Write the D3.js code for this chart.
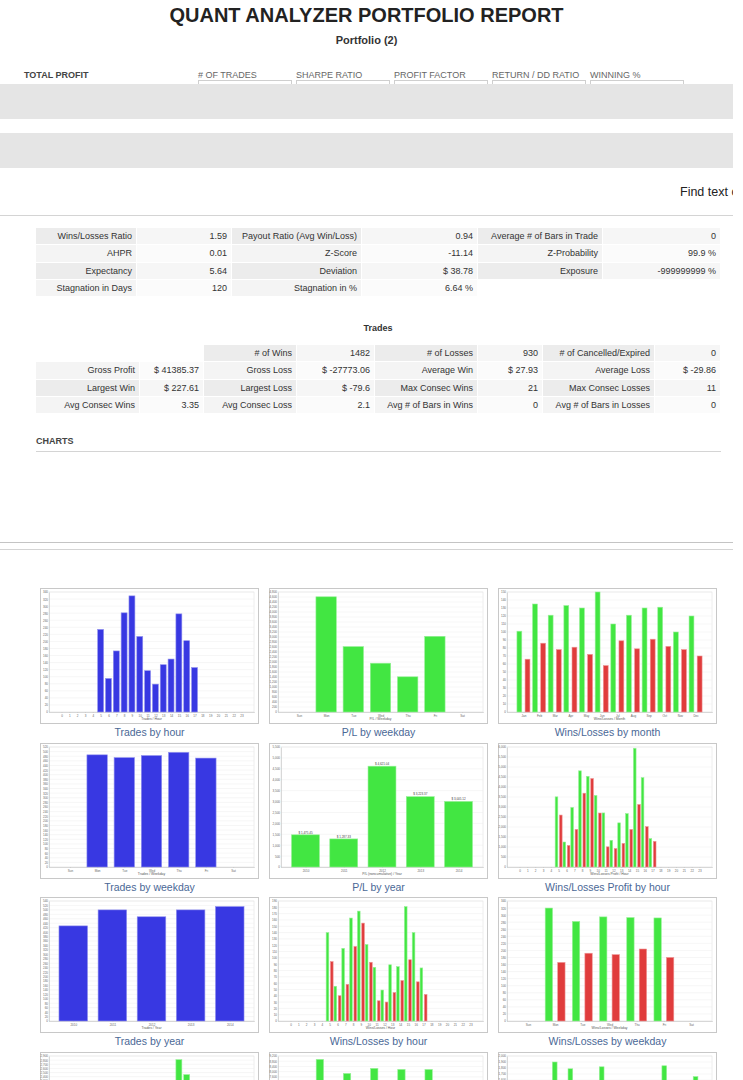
<!DOCTYPE html>
<html>
<head>
<meta charset="utf-8">
<title>Quant Analyzer Portfolio Report</title>
<script src="https://cdn.jsdelivr.net/npm/d3@7"></script>
<style>
    body { margin: 0; background: #fff; font-family: "Liberation Sans", Arial, sans-serif; color: #333; }
    #page { position: relative; width: 733px; height: 1080px; overflow: hidden; background: #fff; }
    .abs { position: absolute; white-space: nowrap; }
    .cell { position: absolute; font-size: 9px; text-align: right; box-sizing: border-box; padding-right: 4px; line-height: 17px; color: #333; }
    .caption { position: absolute; width: 219px; text-align: center; font-size: 10.5px; color: #4a6896; line-height: 14px; }
    svg text { font-family: "Liberation Sans", Arial, sans-serif; }
</style>
</head>
<body>
<div id="page"></div>

<script>
    // ---- data ----
    var headerLabels = ["# OF TRADES", "SHARPE RATIO", "PROFIT FACTOR", "RETURN / DD RATIO", "WINNING %"];

    var statsRows = [
        ["Wins/Losses Ratio", "1.59", "Payout Ratio (Avg Win/Loss)", "0.94", "Average # of Bars in Trade", "0"],
        ["AHPR", "0.01", "Z-Score", "-11.14", "Z-Probability", "99.9 %"],
        ["Expectancy", "5.64", "Deviation", "$ 38.78", "Exposure", "-999999999 %"],
        ["Stagnation in Days", "120", "Stagnation in %", "6.64 %", "", ""]
    ];

    var tradesRows = [
        ["", "", "# of Wins", "1482", "# of Losses", "930", "# of Cancelled/Expired", "0"],
        ["Gross Profit", "$ 41385.37", "Gross Loss", "$ -27773.06", "Average Win", "$ 27.93", "Average Loss", "$ -29.86"],
        ["Largest Win", "$ 227.61", "Largest Loss", "$ -79.6", "Max Consec Wins", "21", "Max Consec Losses", "11"],
        ["Avg Consec Wins", "3.35", "Avg Consec Loss", "2.1", "Avg # of Bars in Wins", "0", "Avg # of Bars in Losses", "0"]
    ];

    var hourLabels = ["0", "1", "2", "3", "4", "5", "6", "7", "8", "9", "10", "11", "12", "13", "14", "15", "16", "17", "18", "19", "20", "21", "22", "23"];
    var dayLabels = ["Sun", "Mon", "Tue", "Wed", "Thu", "Fri", "Sat"];
    var monthLabels = ["Jan", "Feb", "Mar", "Apr", "May", "Jun", "Jul", "Aug", "Sep", "Oct", "Nov", "Dec"];
    var yearLabels = ["2010", "2011", "2012", "2013", "2014"];

    var tradesByHour = [0, 0, 0, 0, 0, 234, 95, 173, 281, 329, 214, 117, 79, 134, 150, 278, 202, 126, 0, 0, 0, 0, 0, 0];
    var plByWeekday = [0, 4608, 2616, 1952, 1408, 3028, 0];
    var winsByMonth = [101, 135, 121, 133, 130, 150, 110, 121, 130, 131, 100, 120];
    var lossesByMonth = [66, 86, 78, 81, 72, 58, 89, 79, 91, 82, 78, 70];
    var tradesByWeekday = [0, 486, 474, 483, 497, 472, 0];
    var plByYear = [1475.45, 1287.33, 4621.04, 3223.37, 3005.12];
    var winProfitByHour = [0, 0, 0, 0, 0, 3507, 1249, 2977, 4808, 4534, 3576, 2703, 1335, 2207, 2669, 5937, 4466, 1420, 0, 0, 0, 0, 0, 0];
    var lossProfitByHour = [0, 0, 0, 0, 0, 2597, 1076, 1879, 3690, 4425, 2699, 1008, 922, 1179, 1879, 3126, 2016, 1281, 0, 0, 0, 0, 0, 0];
    var tradesByYear = [428, 500, 469, 500, 515];
    var winsByHour = [0, 0, 0, 0, 0, 140, 55, 115, 163, 174, 121, 85, 49, 89, 86, 181, 140, 84, 0, 0, 0, 0, 0, 0];
    var lossesByHour = [0, 0, 0, 0, 0, 94, 40, 58, 118, 155, 93, 32, 30, 45, 64, 97, 62, 42, 0, 0, 0, 0, 0, 0];
    var winsByWeekday = [0, 320, 282, 295, 293, 292, 0];
    var lossesByWeekday = [0, 166, 192, 188, 204, 180, 0];
    var plByHour = [0, 0, 0, 0, 0, 910, 173, 1098, 1118, 109, 877, 1695, 413, 1028, 790, 2811, 2450, 139, 0, 0, 0, 0, 0, 0];
    var winProfitByWeekday = [0, 8940, 7860, 8250, 8170, 8165, 0];
    var lossProfitByWeekday = [0, 4957, 5733, 5614, 6091, 5375, 0];
    var plByMonth = [620, 890, 1900, 1787, 1050, 1820, 240, 720, 560, 1837, 532, 1656];

    var BLUE = "#3838e2", GREEN = "#42e642", RED = "#e03c3c";

    var page = d3.select("#page");

    // ---- header ----
    page.append("div").attr("class", "abs")
        .style("left", "0px").style("top", "4px").style("width", "733px")
        .style("text-align", "center").style("font-size", "20px").style("font-weight", "bold")
        .style("color", "#222").style("line-height", "23px")
        .text("QUANT ANALYZER PORTFOLIO REPORT");

    page.append("div").attr("class", "abs")
        .style("left", "0px").style("top", "33px").style("width", "733px")
        .style("text-align", "center").style("font-size", "11px").style("font-weight", "bold")
        .style("color", "#333").style("line-height", "14px")
        .text("Portfolio (2)");

    page.append("div").attr("class", "abs")
        .style("left", "24px").style("top", "69px").style("font-size", "9px").style("font-weight", "bold")
        .style("color", "#444").style("line-height", "12px")
        .text("TOTAL PROFIT");

    // header boxes
    page.selectAll("div.hbox").data(headerLabels).enter().append("div")
        .attr("class", "abs hbox")
        .style("left", function (d, i) { return (198 + i * 98) + "px"; })
        .style("top", "80px").style("width", "92px").style("height", "30px")
        .style("border", "1px solid #cfcfcf");

    page.selectAll("div.hlab").data(headerLabels).enter().append("div")
        .attr("class", "abs hlab")
        .style("left", function (d, i) { return (198 + i * 98) + "px"; })
        .style("top", "69px").style("font-size", "9px").style("color", "#666").style("line-height", "12px")
        .text(function (d) { return d; });

    // grey bands
    [[84, 35], [133, 35]].forEach(function (b) {
        page.append("div").attr("class", "abs")
            .style("left", "0px").style("top", b[0] + "px").style("width", "733px").style("height", b[1] + "px")
            .style("background", "#e5e5e5");
    });

    page.append("div").attr("class", "abs")
        .style("left", "680px").style("top", "185px").style("font-size", "12.5px").style("color", "#222")
        .style("line-height", "15px")
        .text("Find text on this page");

    function hline(y, x0, x1, color) {
        page.append("div").attr("class", "abs")
            .style("left", x0 + "px").style("top", y + "px").style("width", (x1 - x0) + "px")
            .style("height", "1px").style("background", color);
    }
    hline(215, 0, 733, "#d4d4d4");

    // ---- tables ----
    function table(rows, edges, top, rowH, bgs) {
        rows.forEach(function (row, r) {
            row.forEach(function (txt, c) {
                var isLabel = c % 2 === 0;
                var bg = (txt === "") ? "#fff" : (r % 2 === 0 ? bgs[0] : bgs[2]);
                if (!isLabel && txt !== "") bg = (r % 2 === 0 ? bgs[1] : bgs[3]);
                page.append("div").attr("class", "cell")
                    .style("left", edges[c] + "px")
                    .style("top", (top + r * rowH) + "px")
                    .style("width", (edges[c + 1] - edges[c] - 1) + "px")
                    .style("height", (rowH - 1) + "px")
                    .style("line-height", (rowH - 1) + "px")
                    .style("background", bg)
                    .text(txt);
            });
        });
    }
    table(statsRows, [36, 137, 232, 362, 478, 603, 721], 228, 17.3, ["#ececec", "#f6f6f6", "#f4f4f4", "#fbfbfb"]);

    page.append("div").attr("class", "abs")
        .style("left", "0px").style("top", "322px").style("width", "756px").style("text-align", "center")
        .style("font-size", "9px").style("font-weight", "bold").style("line-height", "12px")
        .text("Trades");

    table(tradesRows, [36, 140, 204, 297, 375, 478, 543, 655, 721], 345, 17.3, ["#ececec", "#f6f6f6", "#f4f4f4", "#fbfbfb"]);

    page.append("div").attr("class", "abs")
        .style("left", "36px").style("top", "435px").style("font-size", "9px").style("font-weight", "bold")
        .style("color", "#444").style("line-height", "12px")
        .text("CHARTS");
    hline(451, 36, 721, "#d4d4d4");
    hline(542, 0, 733, "#c4c4c4");
    hline(549, 0, 733, "#d4d4d4");

    // ---- charts ----
    var boxX = [40, 269, 498];
    var boxY = [588, 743, 897, 1052];

    function lighter(c) { return d3.interpolateRgb(c, "#ffffff")(0.45); }

    function drawChart(col, row, spec) {
        var W = 218, H = 135;
        var svg = page.append("svg")
            .style("position", "absolute")
            .style("left", boxX[col] + "px").style("top", boxY[row] + "px")
            .attr("width", W + 1).attr("height", H + 1);

        svg.append("rect").attr("x", 0.5).attr("y", 0.5).attr("width", W).attr("height", H)
            .attr("fill", "#fff").attr("stroke", "#c8c8c8");

        var left = spec.left || 9, right = 214, top = 4, bottom = 124;

        var y = d3.scaleLinear().domain([0, spec.yMax]).range([bottom, top]);
        var ticks = d3.range(0, spec.yMax + 0.001, spec.yStep);

        var x = d3.scalePoint().domain(spec.cats).range([left, right]).padding(spec.pad);
        var step = x.step();

        svg.append("rect").attr("x", left).attr("y", top).attr("width", right - left).attr("height", bottom - top)
            .attr("fill", "#fff").attr("stroke", "#dcdcdc").attr("stroke-width", 0.5);

        svg.append("g").selectAll("line").data(ticks).enter().append("line")
            .attr("x1", left).attr("x2", right)
            .attr("y1", function (d) { return y(d); }).attr("y2", function (d) { return y(d); })
            .attr("stroke", "#ececec").attr("stroke-width", 0.5);

        var yAxis = svg.append("g").attr("transform", "translate(" + left + ",0)")
            .call(d3.axisLeft(y).tickValues(ticks).tickSize(0).tickPadding(1).tickFormat(d3.format(",")));
        var xAxis = svg.append("g").attr("transform", "translate(0," + bottom + ")")
            .call(d3.axisBottom(x).tickSize(1).tickPadding(1.5));
        [yAxis, xAxis].forEach(function (a) {
            a.select(".domain").attr("stroke", "#bbb").attr("stroke-width", 0.5);
            a.selectAll(".tick line").attr("stroke", "#bbb").attr("stroke-width", 0.4);
            a.selectAll("text").attr("font-size", 3).attr("fill", "#666");
        });

        svg.append("text").attr("x", (left + right) / 2).attr("y", 131.5)
            .attr("text-anchor", "middle").attr("font-size", 3.4).attr("fill", "#555")
            .text(spec.axisTitle);

        var n = spec.series.length;
        spec.series.forEach(function (s, si) {
            var w, off;
            if (n === 1) {
                w = step * spec.barFrac; off = -w / 2;
            } else {
                w = step * spec.barFrac; var g = step * spec.gap;
                off = si === 0 ? -g / 2 - w : g / 2;
            }
            svg.append("g").selectAll("rect").data(s.values).enter().append("rect")
                .attr("x", function (d, i) { return x(spec.cats[i]) + off; })
                .attr("y", function (d) { return y(d); })
                .attr("width", w)
                .attr("height", function (d) { return bottom - y(d); })
                .attr("fill", s.color)
                .attr("stroke", function (d) { return d > 0 ? lighter(s.color) : "none"; })
                .attr("stroke-width", 0.6);

            if (spec.valueLabels) {
                svg.append("g").selectAll("text").data(s.values).enter().append("text")
                    .attr("x", function (d, i) { return x(spec.cats[i]); })
                    .attr("y", function (d) { return y(d) - 1.2; })
                    .attr("text-anchor", "middle").attr("font-size", 3).attr("fill", "#444")
                    .text(function (d) { return "$ " + d3.format(",.2f")(d); });
            }
        });

        page.append("div").attr("class", "caption")
            .style("left", boxX[col] + "px").style("top", (boxY[row] + 136.5) + "px")
            .text(spec.caption);
    }

    drawChart(0, 0, { cats: hourLabels, pad: 1.6, barFrac: 0.76, yMax: 340, yStep: 20,
        series: [{ values: tradesByHour, color: BLUE }], axisTitle: "Trades / Hour", caption: "Trades by hour" });
    drawChart(1, 0, { cats: dayLabels, pad: 0.77, barFrac: 0.75, yMax: 4800, yStep: 200,
        series: [{ values: plByWeekday, color: GREEN }], axisTitle: "P/L / Weekday", caption: "P/L by weekday" });
    drawChart(2, 0, { cats: monthLabels, pad: 1.05, barFrac: 0.31, gap: 0.21, yMax: 150, yStep: 10,
        series: [{ values: winsByMonth, color: GREEN }, { values: lossesByMonth, color: RED }],
        axisTitle: "Wins/Losses / Month", caption: "Wins/Losses by month" });

    drawChart(0, 1, { cats: dayLabels, pad: 0.77, barFrac: 0.75, yMax: 520, yStep: 20,
        series: [{ values: tradesByWeekday, color: BLUE }], axisTitle: "Trades / Weekday", caption: "Trades by weekday" });
    drawChart(1, 1, { cats: yearLabels, pad: 0.64, barFrac: 0.73, yMax: 5500, yStep: 500, left: 12, valueLabels: true,
        series: [{ values: plByYear, color: GREEN }], axisTitle: "P/L (noncumulative) / Year", caption: "P/L by year" });
    drawChart(2, 1, { cats: hourLabels, pad: 1.6, barFrac: 0.34, gap: 0.21, yMax: 6000, yStep: 500,
        series: [{ values: winProfitByHour, color: GREEN }, { values: lossProfitByHour, color: RED }],
        axisTitle: "Wins/Losses Profit / Hour", caption: "Wins/Losses Profit by hour" });

    drawChart(0, 2, { cats: yearLabels, pad: 0.62, barFrac: 0.73, yMax: 540, yStep: 20,
        series: [{ values: tradesByYear, color: BLUE }], axisTitle: "Trades / Year", caption: "Trades by year" });
    drawChart(1, 2, { cats: hourLabels, pad: 1.6, barFrac: 0.34, gap: 0.21, yMax: 190, yStep: 10,
        series: [{ values: winsByHour, color: GREEN }, { values: lossesByHour, color: RED }],
        axisTitle: "Wins/Losses / Hour", caption: "Wins/Losses by hour" });
    drawChart(2, 2, { cats: dayLabels, pad: 0.77, barFrac: 0.27, gap: 0.19, yMax: 340, yStep: 20,
        series: [{ values: winsByWeekday, color: GREEN }, { values: lossesByWeekday, color: RED }],
        axisTitle: "Wins/Losses / Weekday", caption: "Wins/Losses by weekday" });

    drawChart(0, 3, { cats: hourLabels, pad: 1.6, barFrac: 0.76, yMax: 2900, yStep: 100,
        series: [{ values: plByHour, color: GREEN }], axisTitle: "P/L / Hour", caption: "P/L by hour" });
    drawChart(1, 3, { cats: dayLabels, pad: 0.77, barFrac: 0.27, gap: 0.19, yMax: 9200, yStep: 400,
        series: [{ values: winProfitByWeekday, color: GREEN }, { values: lossProfitByWeekday, color: RED }],
        axisTitle: "Wins/Losses Profit / Weekday", caption: "Wins/Losses Profit by weekday" });
    drawChart(2, 3, { cats: monthLabels, pad: 1.05, barFrac: 0.3, yMax: 2000, yStep: 100,
        series: [{ values: plByMonth, color: GREEN }], axisTitle: "P/L / Month", caption: "P/L by month" });
</script>
</body>
</html>
